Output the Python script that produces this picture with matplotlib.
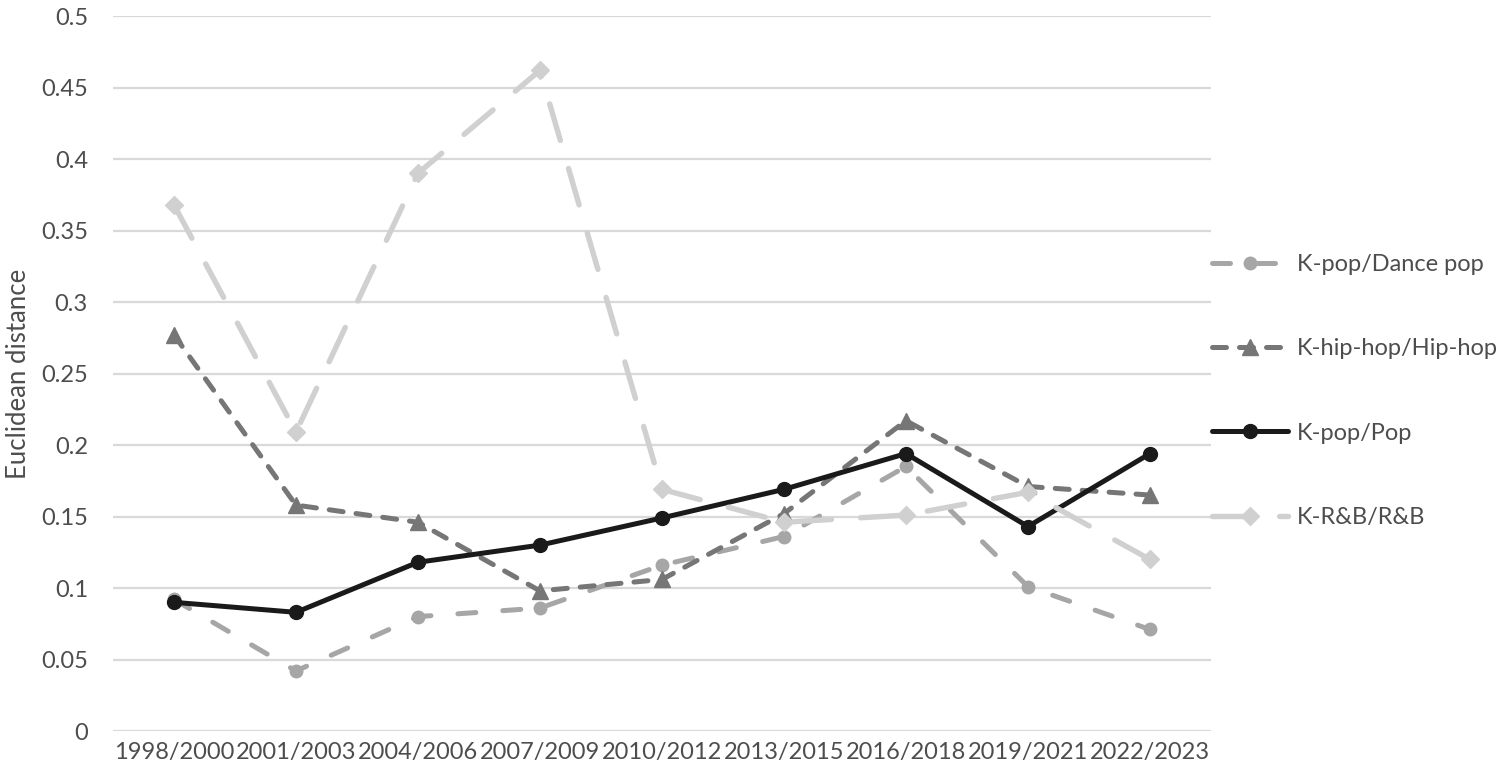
import numpy as np
import matplotlib
matplotlib.use("Agg")
import matplotlib.pyplot as plt

periods = ["1998/2000", "2001/2003", "2004/2006", "2007/2009", "2010/2012",
           "2013/2015", "2016/2018", "2019/2021", "2022/2023"]

dance_pop = [0.092, 0.042, 0.080, 0.086, 0.116, 0.136, 0.185, 0.101, 0.071]
hip_hop = [0.277, 0.158, 0.146, 0.098, 0.106, 0.152, 0.217, 0.171, 0.165]
pop = [0.090, 0.083, 0.118, 0.130, 0.149, 0.169, 0.194, 0.143, 0.194]
rnb = [0.368, 0.209, 0.390, 0.462, 0.169, 0.146, 0.151, 0.167, 0.120]

yticks = [0, 0.05, 0.1, 0.15, 0.2, 0.25, 0.3, 0.35, 0.4, 0.45, 0.5]

plt.rcParams['font.family'] = ['Lato', 'DejaVu Sans']
text_col = '#4d4d4d'

fig = plt.figure(figsize=(15, 7.82), dpi=100)
ax = fig.add_axes([0.0753, 0.0652, 0.7320, 0.9143])

x = np.arange(len(periods))

ax.plot(x, dance_pop, color='#a6a6a6', lw=3.6, dashes=(3.6, 5.4),
        dash_capstyle='round', marker='o', markersize=9,
        label='K-pop/Dance pop', zorder=3)
ax.plot(x, hip_hop, color='#767676', lw=3.6, dashes=(2.8, 2.6),
        dash_capstyle='round', marker='^', markersize=11,
        label='K-hip-hop/Hip-hop', zorder=3)
ax.plot(x, pop, color='#1a1a1a', lw=3.6, solid_capstyle='round',
        marker='o', markersize=10, label='K-pop/Pop', zorder=3)
ax.plot(x, rnb, color='#d0d0d0', lw=3.9, dashes=(7, 5.4),
        dash_capstyle='round', marker='D', markersize=9,
        label='K-R&B/R&B', zorder=3)

ax.set_xlim(-0.5, len(periods) - 0.5)
ax.set_ylim(0, 0.5)
ax.set_yticks(yticks)
ax.set_yticklabels([f"{v:g}" for v in yticks])
ax.set_xticks(x)
ax.set_xticklabels(periods)
ax.yaxis.grid(True, color='#d9d9d9', lw=1.6, zorder=0)
ax.set_axisbelow(True)
for s in ax.spines.values():
    s.set_visible(False)
ax.tick_params(axis='both', length=0, labelsize=17, labelcolor=text_col)
ax.tick_params(axis='y', pad=18)
ax.tick_params(axis='x', pad=8)
ax.set_ylabel('Euclidean distance', fontsize=18.5, color=text_col, labelpad=7)

fig.legend(loc='center left', bbox_to_anchor=(0.808, 0.5), frameon=False,
           fontsize=17, labelcolor=text_col, handlelength=3.2,
           handletextpad=0.4, labelspacing=2.68, borderpad=0, borderaxespad=0)

fig.savefig('out.png', dpi=100)
